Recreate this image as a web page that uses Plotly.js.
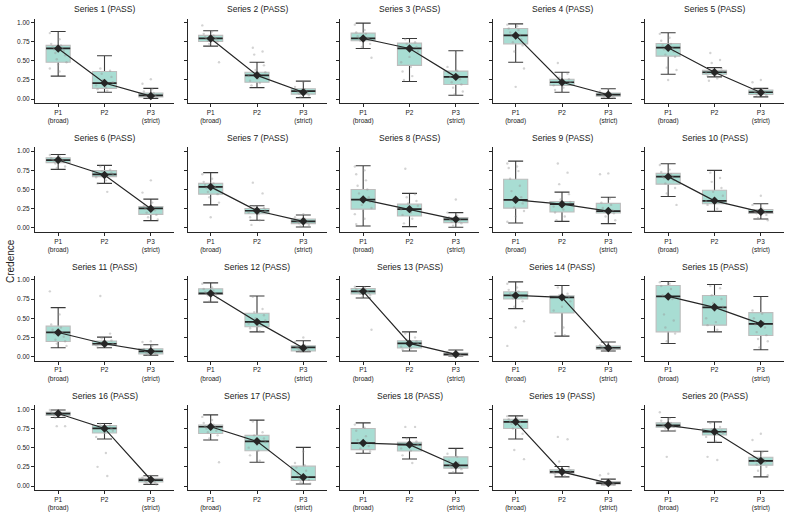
<!DOCTYPE html>
<html>
<head>
<meta charset="utf-8">
<script src="https://cdn.plot.ly/plotly-3.0.1.min.js"></script>
<style>html,body{margin:0;padding:0;background:#fff;}#chart{width:792px;height:518px;}</style>
</head>
<body>
<div id="chart"></div>
<script>
const seriesNames = Array.from({length:20},(_,i)=>'Series '+(i+1)+' (PASS)');
const categories = ['P1<br>(broad)','P2','P3<br>(strict)'];
const yTickVals = [0,0.25,0.5,0.75,1];
const yTickText = ['0.00','0.25','0.50','0.75','1.00'];

const q1Vals = [
 [0.48,0.14,0.03],[0.75,0.22,0.065],[0.76,0.44,0.19],[0.72,0.18,0.04],[0.56,0.325,0.06],
 [0.85,0.668,0.177],[0.44,0.185,0.056],[0.245,0.155,0.07],[0.258,0.207,0.194],[0.57,0.315,0.19],
 [0.198,0.15,0.034],[0.81,0.39,0.073],[0.815,0.112,0.017],[0.75,0.569,0.095],[0.323,0.41,0.276],
 [0.918,0.69,0.052],[0.685,0.46,0.073],[0.474,0.457,0.233],[0.75,0.168,0.026],[0.767,0.664,0.272]];
const medianVals = [
 [0.66,0.21,0.05],[0.79,0.31,0.105],[0.79,0.66,0.29],[0.83,0.22,0.06],[0.67,0.35,0.09],
 [0.884,0.698,0.254],[0.535,0.224,0.086],[0.37,0.245,0.112],[0.366,0.31,0.22],[0.668,0.353,0.21],
 [0.315,0.168,0.069],[0.823,0.453,0.12],[0.85,0.172,0.03],[0.797,0.772,0.116],[0.784,0.642,0.427],
 [0.944,0.75,0.078],[0.772,0.582,0.116],[0.56,0.54,0.27],[0.836,0.185,0.039],[0.789,0.707,0.328]];
const q3Vals = [
 [0.70,0.36,0.08],[0.83,0.35,0.135],[0.86,0.73,0.365],[0.92,0.26,0.08],[0.725,0.375,0.12],
 [0.914,0.746,0.28],[0.58,0.254,0.116],[0.50,0.31,0.134],[0.634,0.345,0.32],[0.71,0.49,0.24],
 [0.397,0.203,0.103],[0.884,0.565,0.142],[0.888,0.207,0.047],[0.845,0.793,0.138],[0.927,0.797,0.573],
 [0.961,0.789,0.10],[0.793,0.66,0.259],[0.75,0.57,0.38],[0.87,0.211,0.06],[0.823,0.746,0.375]];
const lowWhisk = [
 [0.30,0.09,0.01],[0.69,0.15,0.02],[0.66,0.23,0.05],[0.48,0.09,0.01],[0.325,0.29,0.03],
 [0.763,0.58,0.095],[0.30,0.10,0.013],[0.026,0.017,0.01],[0.065,0.086,0.056],[0.41,0.216,0.116],
 [0.116,0.116,0.02],[0.71,0.323,0.065],[0.763,0.073,0.009],[0.625,0.267,0.073],[0.172,0.323,0.09],
 [0.892,0.612,0.022],[0.60,0.31,0.026],[0.427,0.353,0.168],[0.612,0.12,0.017],[0.716,0.569,0.12]];
const highWhisk = [
 [0.88,0.565,0.14],[0.89,0.48,0.235],[0.99,0.79,0.63],[0.98,0.35,0.135],[0.865,0.41,0.14],
 [0.957,0.815,0.375],[0.72,0.29,0.168],[0.81,0.45,0.20],[0.87,0.466,0.40],[0.836,0.75,0.315],
 [0.638,0.254,0.155],[0.96,0.79,0.207],[0.914,0.323,0.086],[0.974,0.927,0.19],[0.978,0.94,0.784],
 [0.991,0.815,0.134],[0.927,0.858,0.504],[0.823,0.63,0.49],[0.914,0.254,0.09],[0.892,0.836,0.453]];
const meanVals = [
 [0.66,0.21,0.04],[0.79,0.31,0.09],[0.79,0.66,0.29],[0.83,0.22,0.057],[0.67,0.35,0.087],
 [0.884,0.69,0.25],[0.535,0.224,0.086],[0.37,0.245,0.112],[0.366,0.31,0.22],[0.668,0.353,0.21],
 [0.315,0.168,0.069],[0.823,0.453,0.112],[0.85,0.172,0.03],[0.797,0.772,0.112],[0.784,0.642,0.427],
 [0.944,0.75,0.082],[0.772,0.582,0.116],[0.56,0.54,0.27],[0.836,0.185,0.039],[0.789,0.707,0.328]];
const pointVals = [
 [[0.86,0.78,0.72,0.70,0.68,0.67,0.65,0.63,0.6,0.57,0.52,0.48,0.45,0.40,0.36],[0.40,0.37,0.33,0.29,0.25,0.22,0.20,0.18,0.15,0.13,0.11],[0.26,0.20,0.13,0.10,0.08,0.06,0.05,0.04,0.03,0.02]],
 [[0.96,0.88,0.85,0.83,0.81,0.80,0.79,0.78,0.76,0.75,0.72,0.48],[0.67,0.62,0.58,0.44,0.38,0.35,0.33,0.30,0.27,0.24,0.21,0.18],[0.22,0.16,0.13,0.12,0.10,0.09,0.08,0.07,0.05,0.03]],
 [[0.97,0.90,0.87,0.85,0.82,0.80,0.79,0.78,0.76,0.72,0.68,0.54],[0.78,0.74,0.72,0.68,0.66,0.62,0.55,0.48,0.42,0.36,0.30,0.25],[0.60,0.42,0.37,0.34,0.31,0.29,0.26,0.22,0.19,0.15,0.10,0.06]],
 [[0.97,0.95,0.92,0.90,0.87,0.84,0.82,0.78,0.74,0.70,0.62,0.40,0.16],[0.47,0.33,0.28,0.26,0.24,0.22,0.20,0.18,0.15,0.12],[0.13,0.10,0.08,0.07,0.06,0.05,0.04,0.03,0.02]],
 [[0.85,0.80,0.76,0.72,0.70,0.67,0.65,0.62,0.58,0.55,0.41,0.38,0.25],[0.60,0.51,0.47,0.40,0.38,0.36,0.35,0.34,0.32,0.30,0.27,0.24],[0.25,0.22,0.13,0.11,0.10,0.09,0.08,0.06,0.05,0.03]],
 [[0.95,0.93,0.91,0.90,0.89,0.88,0.87,0.86,0.84,0.80,0.78],[0.80,0.76,0.74,0.72,0.70,0.69,0.68,0.66,0.62,0.58,0.47],[0.62,0.46,0.33,0.29,0.27,0.25,0.23,0.20,0.17,0.14,0.11]],
 [[0.70,0.64,0.60,0.58,0.56,0.54,0.52,0.50,0.47,0.44,0.40,0.33,0.14],[0.59,0.45,0.28,0.26,0.24,0.23,0.22,0.20,0.18,0.14,0.10,0.04],[0.18,0.14,0.12,0.10,0.09,0.08,0.07,0.06,0.04,0.02]],
 [[0.80,0.75,0.70,0.62,0.55,0.50,0.45,0.40,0.37,0.34,0.30,0.26,0.22,0.18,0.12,0.05],[0.77,0.44,0.40,0.35,0.32,0.29,0.26,0.24,0.20,0.17,0.12,0.06],[0.37,0.20,0.16,0.14,0.12,0.11,0.10,0.08,0.06,0.03]],
 [[0.84,0.80,0.78,0.74,0.64,0.55,0.48,0.40,0.36,0.32,0.27,0.22,0.15,0.08],[0.84,0.72,0.57,0.44,0.37,0.34,0.31,0.28,0.24,0.20,0.15,0.10],[0.71,0.70,0.38,0.33,0.30,0.26,0.23,0.21,0.19,0.15,0.10]],
 [[0.82,0.76,0.73,0.70,0.68,0.67,0.65,0.62,0.58,0.52,0.45,0.30],[0.72,0.65,0.60,0.52,0.47,0.42,0.38,0.35,0.33,0.30,0.25],[0.42,0.30,0.25,0.23,0.22,0.21,0.20,0.19,0.17,0.13,0.10]],
 [[0.85,0.55,0.42,0.38,0.35,0.32,0.30,0.26,0.22,0.20,0.17,0.14],[0.79,0.30,0.24,0.21,0.19,0.17,0.16,0.15,0.14,0.12],[0.20,0.19,0.14,0.10,0.08,0.07,0.05,0.04,0.03,0.02]],
 [[0.95,0.90,0.88,0.86,0.84,0.83,0.82,0.81,0.80,0.76,0.72],[0.78,0.62,0.58,0.54,0.50,0.47,0.45,0.43,0.40,0.37,0.33],[0.25,0.19,0.15,0.13,0.12,0.11,0.10,0.09,0.08,0.07]],
 [[0.91,0.90,0.88,0.87,0.86,0.85,0.84,0.83,0.82,0.80,0.77,0.35],[0.30,0.25,0.22,0.20,0.18,0.17,0.15,0.13,0.11,0.09],[0.08,0.06,0.05,0.04,0.03,0.03,0.02,0.02,0.01]],
 [[0.95,0.90,0.87,0.85,0.82,0.80,0.79,0.78,0.76,0.72,0.65,0.46,0.38,0.14],[0.90,0.82,0.80,0.78,0.77,0.72,0.65,0.60,0.38,0.31,0.28],[0.18,0.15,0.14,0.13,0.12,0.11,0.10,0.09,0.08]],
 [[0.97,0.95,0.92,0.88,0.80,0.75,0.55,0.47,0.38,0.30,0.20],[0.92,0.89,0.80,0.75,0.70,0.65,0.60,0.50,0.45,0.41,0.35],[0.75,0.60,0.56,0.50,0.45,0.42,0.38,0.32,0.28,0.23,0.20,0.12]],
 [[0.99,0.97,0.96,0.95,0.94,0.93,0.92,0.91,0.89,0.78,0.78],[0.81,0.79,0.77,0.75,0.74,0.72,0.69,0.64,0.43,0.25,0.13],[0.13,0.11,0.10,0.08,0.07,0.06,0.05,0.04,0.02]],
 [[0.90,0.86,0.82,0.80,0.78,0.77,0.75,0.72,0.70,0.66,0.62,0.31],[0.84,0.70,0.66,0.62,0.59,0.57,0.54,0.50,0.46,0.40,0.33],[0.45,0.30,0.27,0.24,0.20,0.16,0.12,0.10,0.08,0.05,0.03]],
 [[0.80,0.76,0.72,0.65,0.60,0.57,0.55,0.52,0.49,0.45],[0.77,0.77,0.62,0.58,0.56,0.54,0.52,0.49,0.46,0.40,0.30],[0.47,0.42,0.38,0.33,0.30,0.27,0.25,0.24,0.22,0.18]],
 [[0.91,0.89,0.87,0.85,0.84,0.83,0.81,0.78,0.75,0.68,0.47,0.35],[0.64,0.61,0.32,0.24,0.21,0.20,0.19,0.18,0.17,0.15,0.13],[0.16,0.14,0.08,0.06,0.05,0.04,0.03,0.02,0.02]],
 [[0.96,0.88,0.85,0.82,0.80,0.79,0.78,0.77,0.75,0.72,0.38],[0.82,0.77,0.74,0.72,0.71,0.69,0.67,0.64,0.58,0.38,0.34],[0.68,0.60,0.44,0.38,0.35,0.33,0.31,0.28,0.25,0.20,0.14]]];

// ---- layout geometry (pixels) ----
const W = 792, H = 518;
const colLeft = c => 35 + 152.5*c, plotW = 139;
const rowTops = [18.5, 147.3, 276, 405.4], plotH = 84.5;
const catPos = [0,1,2];
const FILL = '#a8ddd3', DARK = '#262626';

const traces = [];
const layout = {
  width: W, height: H, margin:{l:0,r:0,t:0,b:0},
  paper_bgcolor:'#fff', plot_bgcolor:'#fff', showlegend:false,
  font:{family:'"Liberation Sans", Arial, sans-serif', color:'#222', size:7},
  annotations:[]
};

for (let s=0; s<20; s++) {
  const r = Math.floor(s/5), c = s%5, n = s+1;
  const xa = n===1 ? 'x' : 'x'+n, ya = n===1 ? 'y' : 'y'+n;
  const L = colLeft(c), T = rowTops[r];
  layout['xaxis'+(n===1?'':n)] = {
    domain:[L/W, (L+plotW)/W], anchor: ya, range:[-0.5,2.5],
    tickvals: catPos, ticktext: categories, tickfont:{size:6.5,color:'#222'},
    showline:true, linecolor:DARK, linewidth:1, ticks:'outside', ticklen:3, tickcolor:DARK,
    showgrid:false, zeroline:false, fixedrange:true
  };
  layout['yaxis'+(n===1?'':n)] = {
    domain:[1-(T+plotH)/H, 1-T/H], anchor: xa, range:[-0.05,1.05],
    tickvals: yTickVals, ticktext: yTickText, showticklabels: c===0, tickfont:{size:6.5,color:'#222'},
    showline:true, linecolor:DARK, linewidth:1, ticks:'outside', ticklen:3, tickcolor:DARK,
    showgrid:false, zeroline:false, fixedrange:true
  };
  layout.annotations.push({
    text: seriesNames[s], xref:'paper', yref:'paper',
    x:(L+plotW/2)/W, y:1-(T-9.5)/H, xanchor:'center', yanchor:'middle',
    showarrow:false, font:{size:8.5,color:'#222'}
  });
  const base = {type:'box', xaxis:xa, yaxis:ya, x:catPos, boxpoints:false, hoverinfo:'skip', width:0.52};
  // whiskers with caps
  traces.push(Object.assign({}, base, {
    q1: medianVals[s], median: medianVals[s], q3: medianVals[s],
    lowerfence: lowWhisk[s], upperfence: highWhisk[s],
    whiskerwidth:0.62, fillcolor:'rgba(0,0,0,0)', line:{color:'#3a3a3a', width:1.1}
  }));
  // boxes
  traces.push(Object.assign({}, base, {
    q1: q1Vals[s], median: medianVals[s], q3: q3Vals[s],
    lowerfence: q1Vals[s], upperfence: q3Vals[s],
    whiskerwidth:0, fillcolor:FILL, line:{color:'#bdbdbd', width:1.1}
  }));
  // medians
  traces.push(Object.assign({}, base, {
    q1: medianVals[s], median: medianVals[s], q3: medianVals[s],
    lowerfence: medianVals[s], upperfence: medianVals[s],
    whiskerwidth:0, fillcolor:'rgba(0,0,0,0)', line:{color:DARK, width:1.7}
  }));
  // jittered points
  const px = [], py = [];
  pointVals[s].forEach((arr, g) => {
    arr.forEach((v, i) => {
      const off = (((i*7 + g*3) % 13)/12 - 0.5) * 0.36;
      px.push(catPos[g] + off); py.push(v);
    });
  });
  traces.push({type:'scatter', mode:'markers', xaxis:xa, yaxis:ya, x:px, y:py, hoverinfo:'skip',
    marker:{size:2.4, color:'rgba(150,150,150,0.42)'}});
  // mean line
  traces.push({type:'scatter', mode:'lines+markers', xaxis:xa, yaxis:ya, x:catPos, y:meanVals[s], hoverinfo:'skip',
    line:{color:DARK, width:1.2}, marker:{symbol:'diamond', size:6.5, color:DARK}});
}

layout.annotations.push({
  text:'Credence', xref:'paper', yref:'paper', x:10/W, y:1-261/H,
  xanchor:'center', yanchor:'middle', textangle:-90, showarrow:false, font:{size:10,color:'#222'}
});

Plotly.newPlot('chart', traces, layout, {staticPlot:true, displayModeBar:false});
</script>
</body>
</html>
